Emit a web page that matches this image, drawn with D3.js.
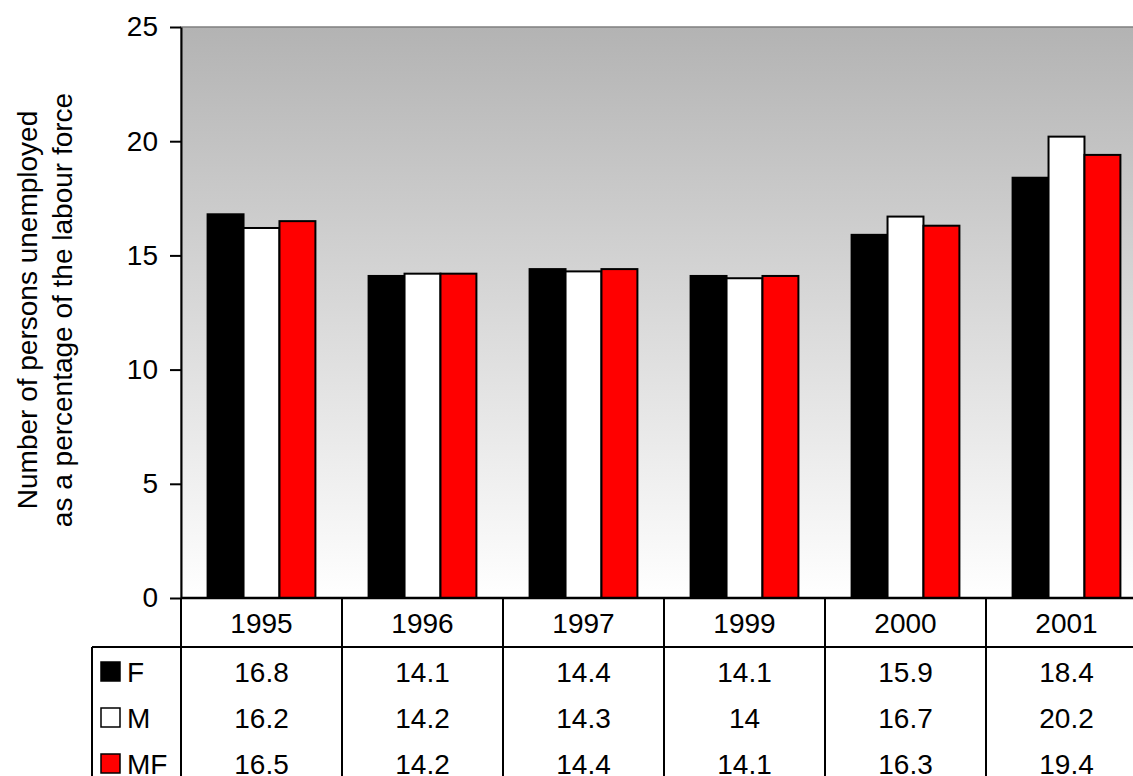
<!DOCTYPE html>
<html>
<head>
<meta charset="utf-8">
<script src="https://cdn.jsdelivr.net/npm/d3@7"></script>
<style>
  body { margin: 0; background: #fff; }
  svg { display: block; font-family: "Liberation Sans", Arial, sans-serif; }
</style>
</head>
<body>
<svg id="chart" width="1133" height="776"></svg>
<script>
// data
const years = ["1995", "1996", "1997", "1999", "2000", "2001"];
const seriesNames = ["F", "M", "MF"];
const valuesF = [16.8, 14.1, 14.4, 14.1, 15.9, 18.4];
const valuesM = [16.2, 14.2, 14.3, 14, 16.7, 20.2];
const valuesMF = [16.5, 14.2, 14.4, 14.1, 16.3, 19.4];
const yTicks = [0, 5, 10, 15, 20, 25];

const colors = { F: "#000000", M: "#ffffff", MF: "#ff0000" };
const seriesValues = { F: valuesF, M: valuesM, MF: valuesMF };

let plotLeft = 181, plotTop = 27, plotBottom = 598, bandW = 161;
let plotRight = plotLeft + bandW * years.length;

const svg = d3.select("#chart");

const x0 = d3.scaleBand().domain(years).range([plotLeft, plotRight]).padding(0);
const x1 = d3.scaleBand().domain(seriesNames).range([0, bandW])
    .paddingInner(0).paddingOuter(0.74);
const y = d3.scaleLinear().domain([0, 25]).range([plotBottom, plotTop]);

// plot area gradient
const grad = svg.append("defs").append("linearGradient")
    .attr("id", "bg").attr("x1", 0).attr("y1", 0).attr("x2", 0).attr("y2", 1);
grad.append("stop").attr("offset", "0%").attr("stop-color", "#b3b3b3");
grad.append("stop").attr("offset", "100%").attr("stop-color", "#ffffff");

svg.append("rect")
    .attr("x", plotLeft).attr("y", plotTop)
    .attr("width", plotRight - plotLeft).attr("height", plotBottom - plotTop)
    .attr("fill", "url(#bg)")
    .attr("stroke", "#808080").attr("stroke-width", 1.5);

// bars
const rows = years.map((yr, i) => ({ year: yr, vals: seriesNames.map(s => ({ s: s, v: seriesValues[s][i] })) }));

svg.append("g").selectAll("g")
    .data(rows)
    .enter().append("g")
    .attr("transform", d => "translate(" + x0(d.year) + ",0)")
    .selectAll("rect")
    .data(d => d.vals)
    .enter().append("rect")
    .attr("x", d => x1(d.s))
    .attr("y", d => y(d.v))
    .attr("width", x1.bandwidth())
    .attr("height", d => plotBottom - y(d.v))
    .attr("fill", d => colors[d.s])
    .attr("stroke", "#000")
    .attr("stroke-width", 2);

// y axis
const yAxis = svg.append("g")
    .attr("transform", "translate(" + plotLeft + ",0)")
    .call(d3.axisLeft(y).tickValues(yTicks).tickSize(11).tickPadding(12).tickSizeOuter(0));
yAxis.select(".domain").attr("stroke", "#000").attr("stroke-width", 2);
yAxis.selectAll(".tick line").attr("stroke", "#000").attr("stroke-width", 2);
yAxis.selectAll(".tick text")
    .attr("font-size", 28).attr("fill", "#000")
    .attr("font-family", "Liberation Sans, Arial, sans-serif");

// zero line
svg.append("line")
    .attr("x1", plotLeft).attr("x2", plotRight)
    .attr("y1", plotBottom).attr("y2", plotBottom)
    .attr("stroke", "#000").attr("stroke-width", 2.5);

// axis title (two lines, rotated)
const title = svg.append("text")
    .attr("transform", "translate(37,310) rotate(-90)")
    .attr("text-anchor", "middle")
    .attr("font-size", 28)
    .attr("fill", "#000");
title.append("tspan").attr("x", 0).attr("y", 0).text("Number of persons unemployed");
title.append("tspan").attr("x", 0).attr("y", 35).text("as a percentage of the labour force");

// data table
let headerBottom = 647, tableLeft = 92, tableBottom = 790;
let rowCenters = [672, 718, 764];

const table = svg.append("g");

// vertical lines at category boundaries
const bounds = years.map(yr => x0(yr)).concat([plotRight]);
table.selectAll("line.v")
    .data(bounds)
    .enter().append("line")
    .attr("class", "v")
    .attr("x1", d => d).attr("x2", d => d)
    .attr("y1", plotBottom).attr("y2", tableBottom)
    .attr("stroke", "#000").attr("stroke-width", 2);

table.append("line")
    .attr("x1", tableLeft).attr("x2", plotRight)
    .attr("y1", headerBottom).attr("y2", headerBottom)
    .attr("stroke", "#000").attr("stroke-width", 2);

table.append("line")
    .attr("x1", tableLeft).attr("x2", tableLeft)
    .attr("y1", headerBottom).attr("y2", tableBottom)
    .attr("stroke", "#000").attr("stroke-width", 2);

// year headers
table.selectAll("text.yr")
    .data(years)
    .enter().append("text")
    .attr("class", "yr")
    .attr("x", d => x0(d) + bandW / 2)
    .attr("y", (plotBottom + headerBottom) / 2)
    .attr("dy", "0.36em")
    .attr("text-anchor", "middle")
    .attr("font-size", 28)
    .text(d => d);

// legend keys and values
seriesNames.forEach((s, r) => {
    let cy = rowCenters[r];
    table.append("rect")
        .attr("x", 101).attr("y", cy - 10)
        .attr("width", 19).attr("height", 19)
        .attr("fill", colors[s])
        .attr("stroke", "#000").attr("stroke-width", 1.5);
    table.append("text")
        .attr("x", 127).attr("y", cy)
        .attr("dy", "0.36em")
        .attr("font-size", 28)
        .text(s);
    table.selectAll("text.v" + s)
        .data(seriesValues[s])
        .enter().append("text")
        .attr("x", (d, i) => x0(years[i]) + bandW / 2)
        .attr("y", cy)
        .attr("dy", "0.36em")
        .attr("text-anchor", "middle")
        .attr("font-size", 28)
        .text(d => d);
});
</script>
</body>
</html>
